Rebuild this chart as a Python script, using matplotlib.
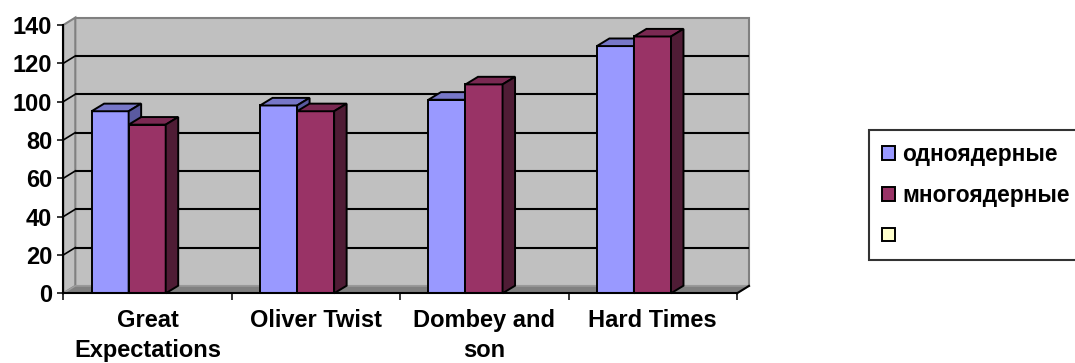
import matplotlib
matplotlib.use("Agg")
import matplotlib.pyplot as plt
from matplotlib.patches import Polygon, Patch

plt.rcParams['font.family'] = ['Liberation Sans', 'DejaVu Sans']
plt.rcParams['font.weight'] = 'bold'

# --- data ---------------------------------------------------------------
categories = ["Great\nExpectations", "Oliver Twist", "Dombey and\nson", "Hard Times"]
series_names = ["одноядерные", "многоядерные", ""]
mononuclear = [95, 98, 101, 129]
multinuclear = [88, 95, 109, 134]
y_ticks = [0, 20, 40, 60, 80, 100, 120, 140]

# --- colours ------------------------------------------------------------
FRONT = ["#9999FF", "#993366"]
TOP = ["#7777C8", "#7A2952"]
SIDE = ["#5A5AA0", "#4F1C35"]
EXTRA = "#FFFFCC"
WALL = "#C0C0C0"
FLOOR = "#808080"
FRAME = "#808080"
FS = 17
LEG_FS = 16.4

W, H = 1075, 363
fig = plt.figure(figsize=(W / 100, H / 100), dpi=100)
x0, x1, y0, y1 = 63.3, 737.0, 293.3, 25.0
ax = fig.add_axes([x0 / W, (H - y0) / H, (x1 - x0) / W, (y0 - y1) / H])
ax.set_xlim(0, len(categories))
ax.set_ylim(0, 140)
ax.set_facecolor("none")

# depth offset of the 3-D box, expressed in data units
px_x = (x1 - x0) / len(categories)
px_y = (y0 - y1) / 140.0
DX = 12.0 / px_x
DY = 7.4 / px_y
ncat = len(categories)
ymax = 140


def poly(pts, fc, ec, lw, z):
    p = Polygon(pts, closed=True, facecolor=fc, edgecolor=ec, linewidth=lw,
                zorder=z, clip_on=False, joinstyle="miter")
    ax.add_patch(p)


# walls and floor
poly([(DX, DY), (ncat + DX, DY), (ncat + DX, ymax + DY), (DX, ymax + DY)], WALL, FRAME, 1.5, 1)
poly([(0, 0), (DX, DY), (DX, ymax + DY), (0, ymax)], WALL, FRAME, 1.5, 1)
poly([(0, 0), (ncat, 0), (ncat + DX, DY), (DX, DY)], FLOOR, "#A0A0A0", 1.0, 1)

# gridlines on back wall and the slanted continuation on the side wall
for v in y_ticks[1:-1]:
    ax.plot([DX, ncat + DX], [v + DY, v + DY], color="black", lw=1.5, zorder=2,
            clip_on=False, solid_capstyle="butt")
    ax.plot([0, DX], [v, v + DY], color="black", lw=1.2, zorder=2, clip_on=False)
ax.plot([ncat, ncat + DX], [0, DY], color="black", lw=1.5, zorder=6, clip_on=False)

# 3-D columns
OFFSET = 0.168
BW = 0.22
BDX = 12.5 / px_x
BDY = 7.6 / px_y
for i in range(ncat):
    for s, vals in enumerate([mononuclear, multinuclear]):
        v = vals[i]
        l = i + OFFSET + s * BW
        r = l + BW
        z = 3 + 0.01 * s
        poly([(l, 0), (r, 0), (r, v), (l, v)], FRONT[s], "black", 1.4, z)
        poly([(l, v), (r, v), (r + BDX, v + BDY), (l + BDX, v + BDY)], TOP[s], "black", 1.4, z)
        poly([(r, 0), (r + BDX, BDY), (r + BDX, v + BDY), (r, v)], SIDE[s], "black", 1.4, z)

# axes lines and ticks
for side in ["top", "right"]:
    ax.spines[side].set_visible(False)
for side in ["left", "bottom"]:
    ax.spines[side].set_color("black")
    ax.spines[side].set_linewidth(1.5)
    ax.spines[side].set_zorder(6)

ax.set_yticks(y_ticks)
ax.set_yticklabels([str(t) for t in y_ticks])
ax.tick_params(axis="y", direction="out", length=4.5, width=1.1, pad=3.5,
               labelsize=FS, colors="black")

ax.set_xticks([i + 0.5 for i in range(ncat)])
ax.set_xticklabels(categories, linespacing=1.4)
ax.set_xticks(list(range(ncat + 1)), minor=True)
ax.tick_params(axis="x", which="major", length=0, pad=11, labelsize=FS)
ax.tick_params(axis="x", which="minor", direction="out", length=5, width=1.1)
for t in ax.get_xticklabels() + ax.get_yticklabels():
    t.set_fontweight("bold")

# legend
handles = [Patch(facecolor=c, edgecolor="black", linewidth=1.4) for c in FRONT + [EXTRA]]
leg = fig.legend(handles, series_names, loc="upper left",
                 bbox_to_anchor=(869 / W, (H - 130) / H),
                 fontsize=LEG_FS, frameon=True, fancybox=False,
                 handlelength=0.56, handleheight=0.56, handletextpad=0.32,
                 labelspacing=0.78, borderpad=0.57, borderaxespad=0)
leg.get_frame().set_edgecolor("black")
leg.get_frame().set_linewidth(1.5)
for t in leg.get_texts():
    t.set_fontweight("bold")

fig.savefig("out.png", dpi=100)
